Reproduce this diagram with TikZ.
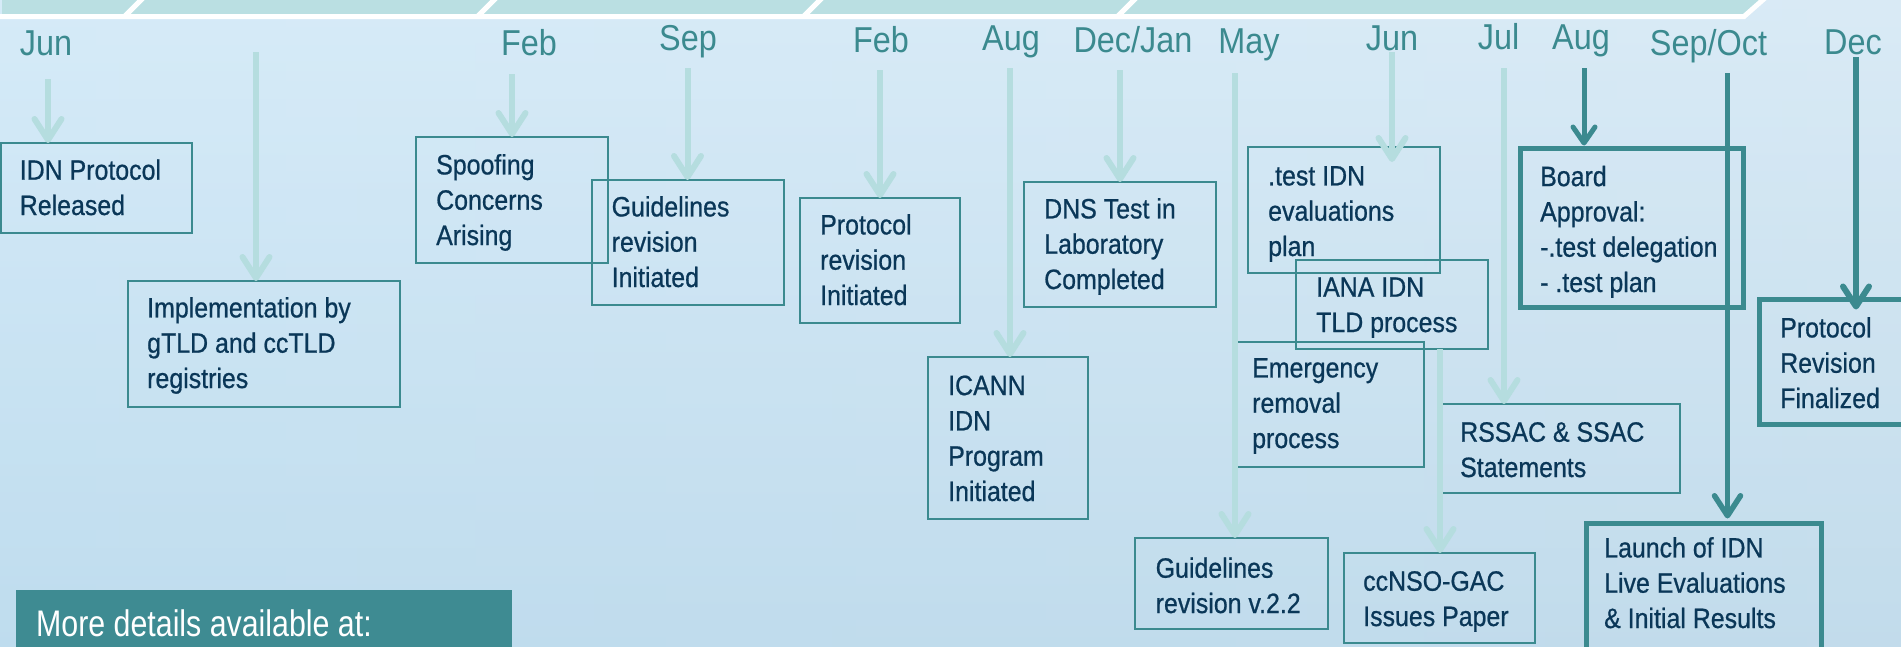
\documentclass[tikz,border=0pt]{standalone}
\usepackage{fontspec}
\setmainfont{Liberation Sans}[FakeStretch=0.9]
\newfontfamily\boxfont{Liberation Sans}[FakeStretch=0.89, FakeBold=0.7]
\newfontfamily\morefont{Liberation Sans}[FakeStretch=0.82]
\usetikzlibrary{arrows.meta,calc}
\definecolor{teal1}{RGB}{59,138,143}
\definecolor{lightarr}{RGB}{181,221,223}
\definecolor{navy}{RGB}{10,55,88}
\definecolor{band}{RGB}{186,223,226}
\definecolor{bgtop}{RGB}{224,240,250}
\definecolor{bgmid}{RGB}{234,244,251}
\definecolor{bgbot}{RGB}{188,217,234}
\definecolor{bgleft}{RGB}{196,227,246}
\definecolor{bgcentre}{RGB}{240,247,252}
\definecolor{bgright}{RGB}{206,225,238}
\definecolor{morefill}{RGB}{62,139,146}
\begin{document}
\begin{tikzpicture}[x=1pt,y=-1pt,
  month/.style={font=\fontsize{36}{40}\selectfont, text=teal1, anchor=base, inner sep=0},
  boxtext/.style={font=\boxfont\fontsize{28}{35.3}\selectfont, text=navy, anchor=base west, align=left, inner sep=0},
  evbox/.style={draw=teal1, line width=2pt, inner sep=0, outer sep=0, anchor=north west},
  keybox/.style={evbox, line width=5pt},
  larrow/.style={draw=lightarr, line width=6pt, -{Straight Barb[length=21pt,width=27pt,round]}},
  darrow/.style={draw=teal1, line width=5.5pt, -{Straight Barb[length=20pt,width=26pt,round]}},
]
\useasboundingbox (0,0) rectangle (1901,646);
\begin{scope}
\clip (0,0) rectangle (1901,646);
% background
\shade[top color=bgtop, middle color=bgmid, bottom color=bgbot] (0,0) rectangle (1901,646);
\shade[left color=bgleft, middle color=bgcentre, right color=bgright, opacity=0.35] (0,0) rectangle (1901,646);
% banner
\fill[band] (2,0) -- (1763,0) -- (1745,14) -- (2,14) -- cycle;
\draw[white, line width=5pt] (0,16.5) -- (1744,16.5) -- (1765,-2);
\foreach \x in {124,477,803,1117} \draw[white, line width=5pt] (\x,17) -- (\x+19,-2);

% month labels
\node[month] (mJun1) at (46,55) {Jun};
\node[month] (mFeb1) at (529,55) {Feb};
\node[month] (mSep) at (688,50) {Sep};
\node[month] (mFeb2) at (881,52) {Feb};
\node[month] (mAug1) at (1011,50) {Aug};
\node[month] (mDecJan) at (1133,52) {Dec/Jan};
\node[month] (mMay) at (1249,53) {May};
\node[month] (mJun2) at (1392,50) {Jun};
\node[month] (mJul) at (1498.5,49) {Jul};
\node[month] (mAug2) at (1581,49) {Aug};
\node[month] (mSepOct) at (1708.5,55) {Sep/Oct};
\node[month] (mDec) at (1853,54) {Dec};

% boxes
\node[evbox, minimum width=191, minimum height=90] (bIDN) at (1,143) {};
\node[evbox, minimum width=272, minimum height=126] (bImpl) at (128,281) {};
\node[evbox, minimum width=192.5, minimum height=126] (bSpoof) at (415.5,137) {};
\node[evbox, minimum width=192, minimum height=125] (bGuide) at (592,180) {};
\node[evbox, minimum width=160, minimum height=125] (bProt1) at (800,198) {};
\node[evbox, minimum width=192, minimum height=125] (bDNS) at (1024,182) {};
\node[evbox, minimum width=160, minimum height=162] (bICANN) at (928,357) {};
\node[evbox, minimum width=193, minimum height=91] (bGuide2) at (1135,538) {};
\node[evbox, minimum width=192, minimum height=126] (bTest) at (1248,147) {};
\node[evbox, minimum width=192, minimum height=89] (bIANA) at (1296,260) {};
\node[evbox, minimum width=188, minimum height=125] (bEmerg) at (1236,342) {};
\node[evbox, minimum width=240, minimum height=89] (bRSSAC) at (1440,404) {};
\node[evbox, minimum width=191, minimum height=90] (bCCNSO) at (1344,553) {};
\node[keybox, minimum width=223, minimum height=159] (bBoard) at (1520.5,148.5) {};
\node[keybox, minimum width=235, minimum height=146] (bLaunch) at (1586,523.5) {};
\node[keybox, minimum width=190, minimum height=125] (bFinal) at (1759.5,299.5) {};

% box texts (anchored at the baseline of their last line)
\node[boxtext] (tIDN) at (19.6,215) {IDN Protocol\\Released};
\node[boxtext] (tImpl) at (147,388) {Implementation by\\gTLD and ccTLD\\registries};
\node[boxtext] (tSpoof) at (436,245) {Spoofing\\Concerns\\Arising};
\node[boxtext] (tGuide) at (611.5,287) {Guidelines\\revision\\Initiated};
\node[boxtext] (tProt1) at (820,305) {Protocol\\revision\\Initiated};
\node[boxtext] (tDNS) at (1044,289) {DNS Test in\\Laboratory\\Completed};
\node[boxtext] (tICANN) at (948,501) {ICANN\\IDN\\Program\\Initiated};
\node[boxtext] (tGuide2) at (1155.5,613) {Guidelines\\revision v.2.2};
\node[boxtext] (tTest) at (1268,256) {.test IDN\\evaluations\\plan};
\node[boxtext] (tIANA) at (1316,332) {IANA IDN\\TLD process};
\node[boxtext] (tEmerg) at (1252,448) {Emergency\\removal\\process};
\node[boxtext] (tRSSAC) at (1460,477) {RSSAC \& SSAC\\Statements};
\node[boxtext] (tCCNSO) at (1363,626) {ccNSO-GAC\\Issues Paper};
\node[boxtext] (tBoard) at (1540,292) {Board\\Approval:\\-.test delegation\\- .test plan};
\node[boxtext] (tLaunch) at (1604,628) {Launch of IDN\\Live Evaluations\\\& Initial Results};
\node[boxtext] (tFinal) at (1780,408) {Protocol\\Revision\\Finalized};

% arrow start points
\coordinate (aJun1) at (48,79);
\coordinate (aImpl) at (256,52);
\coordinate (aFeb1) at (512,74);
\coordinate (aSep) at (687.5,68);
\coordinate (aFeb2) at (880,70);
\coordinate (aAug1) at (1010,68);
\coordinate (aDecJan) at (1120,70);
\coordinate (aMay) at (1235,73);
\coordinate (aJun2) at (1392,52);
\coordinate (aJul) at (1504,68);
\coordinate (aIANA) at ($(bIANA.south west)+(144,0)$);
\coordinate (aAug2) at (1584,68);
\coordinate (aSepOct) at (1727.5,73);
\coordinate (aDec) at (1856,57);

% light arrows
\draw[larrow] (aJun1) -- (aJun1 |- bIDN.north);
\draw[larrow] (aImpl) -- (aImpl |- bImpl.north);
\draw[larrow] (aFeb1) -- (aFeb1 |- bSpoof.north);
\draw[larrow] (aSep) -- (aSep |- bGuide.north);
\draw[larrow] (aFeb2) -- (aFeb2 |- bProt1.north);
\draw[larrow] (aAug1) -- (aAug1 |- bICANN.north);
\draw[larrow] (aDecJan) -- (aDecJan |- bDNS.north);
\draw[larrow] (aMay) -- (aMay |- bGuide2.north);
\draw[larrow] (aJun2) -- ($(aJun2 |- bTest.north)+(0,15)$);
\draw[larrow] (aJul) -- (aJul |- bRSSAC.north);
\draw[larrow] (aIANA) -- (aIANA |- bCCNSO.north);
% dark arrows
\draw[darrow, line width=5pt, -{Straight Barb[length=16pt,width=22pt,round]}] (aAug2) -- ($(aAug2 |- bBoard.north)+(0,-3)$);
\draw[darrow] (aSepOct) -- ($(aSepOct |- bLaunch.north)+(0,-5)$);
\draw[darrow, line width=6pt] (aDec) -- ($(aDec |- bFinal.north)+(0,10)$);

% more details
\node[fill=morefill, anchor=north west, minimum width=496, minimum height=70, inner sep=0, outer sep=0] (bMore) at (16,590) {};
\node[font=\morefont\fontsize{37}{40}\selectfont, text=white, anchor=base west, inner sep=0] (tMore) at (36,636) {More details available at:};
\end{scope}
\end{tikzpicture}
\end{document}
